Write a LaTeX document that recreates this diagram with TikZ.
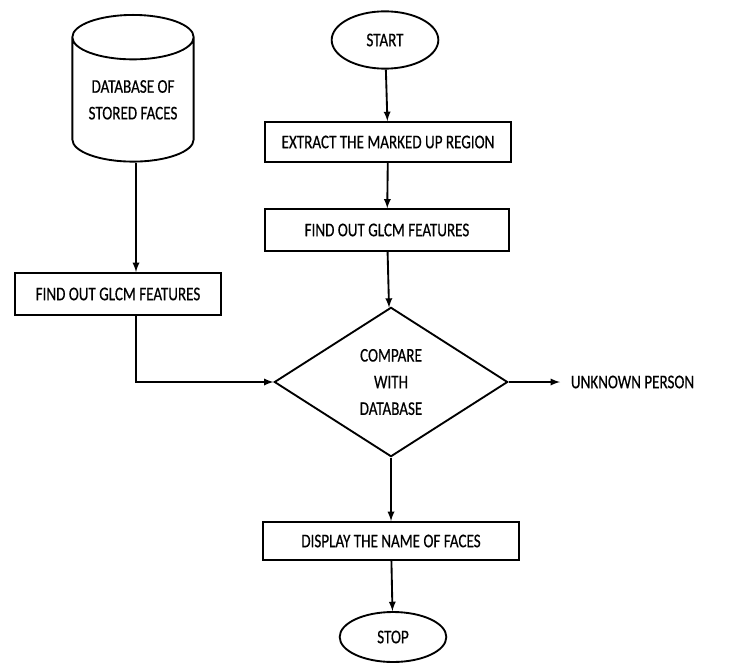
\documentclass[tikz,border=0pt]{standalone}
\usepackage{fontspec}
\setmainfont{Carlito}[FakeStretch=0.78,FakeBold=0.5]
\usepackage{tikz}
\usetikzlibrary{shapes.geometric}

\begin{document}
\begin{tikzpicture}[x=0.75pt,y=-0.75pt,line width=1.4pt,>=latex,
font=\fontsize{14.5}{20}\selectfont,
box/.style={draw,rectangle,minimum height=30pt,inner sep=2pt},
term/.style={draw,ellipse,inner sep=0pt},
decision/.style={draw,diamond,inner sep=0pt,minimum width=175pt,minimum height=112pt,align=center},
store/.style={draw,cylinder,shape border rotate=90,aspect=0.5,inner sep=0pt,align=center,minimum width=91pt,minimum height=110pt}]
\useasboundingbox (0,0) rectangle (734,663);
% right column
\node[term,minimum width=80pt,minimum height=43pt] (start) at (385,40) {START};
\node[box,minimum width=184pt] (extract) at (388,142) {EXTRACT THE MARKED UP REGION};
\node[box,minimum width=183pt,minimum height=31pt] (glcmR) at (387,230) {FIND OUT GLCM FEATURES};
\node[decision] (compare) at (391,382) {COMPARE\\WITH\\DATABASE};
\node[box,minimum width=192pt,minimum height=28.5pt] (display) at (391,541) {DISPLAY THE NAME OF FACES};
\node[term,minimum width=80pt,minimum height=37.5pt] (stop) at (393,637) {STOP};
\node[anchor=west,inner sep=7.5pt] (unknown) at (560,382) {UNKNOWN PERSON};
% left column
\node[store,anchor=top] (db) at (133,14) {DATABASE OF\\STORED FACES};
\node[box,minimum width=155pt,minimum height=31.5pt] (glcmL) at (118,294) {FIND OUT GLCM FEATURES};
% arrows
\draw[->] (start) -- (extract);
\draw[->] (extract) -- (glcmR);
\draw[->] (glcmR) -- (compare);
\draw[->] (compare) -- (display);
\draw[->] (display) -- (stop);
\draw[->] (compare) -- (unknown);
\draw[->] (db.bottom) ++(3,0) coordinate (dbout) -- (dbout |- glcmL.north);
\draw[->] (dbout |- glcmL.south) |- (compare.west);
\end{tikzpicture}
\end{document}
